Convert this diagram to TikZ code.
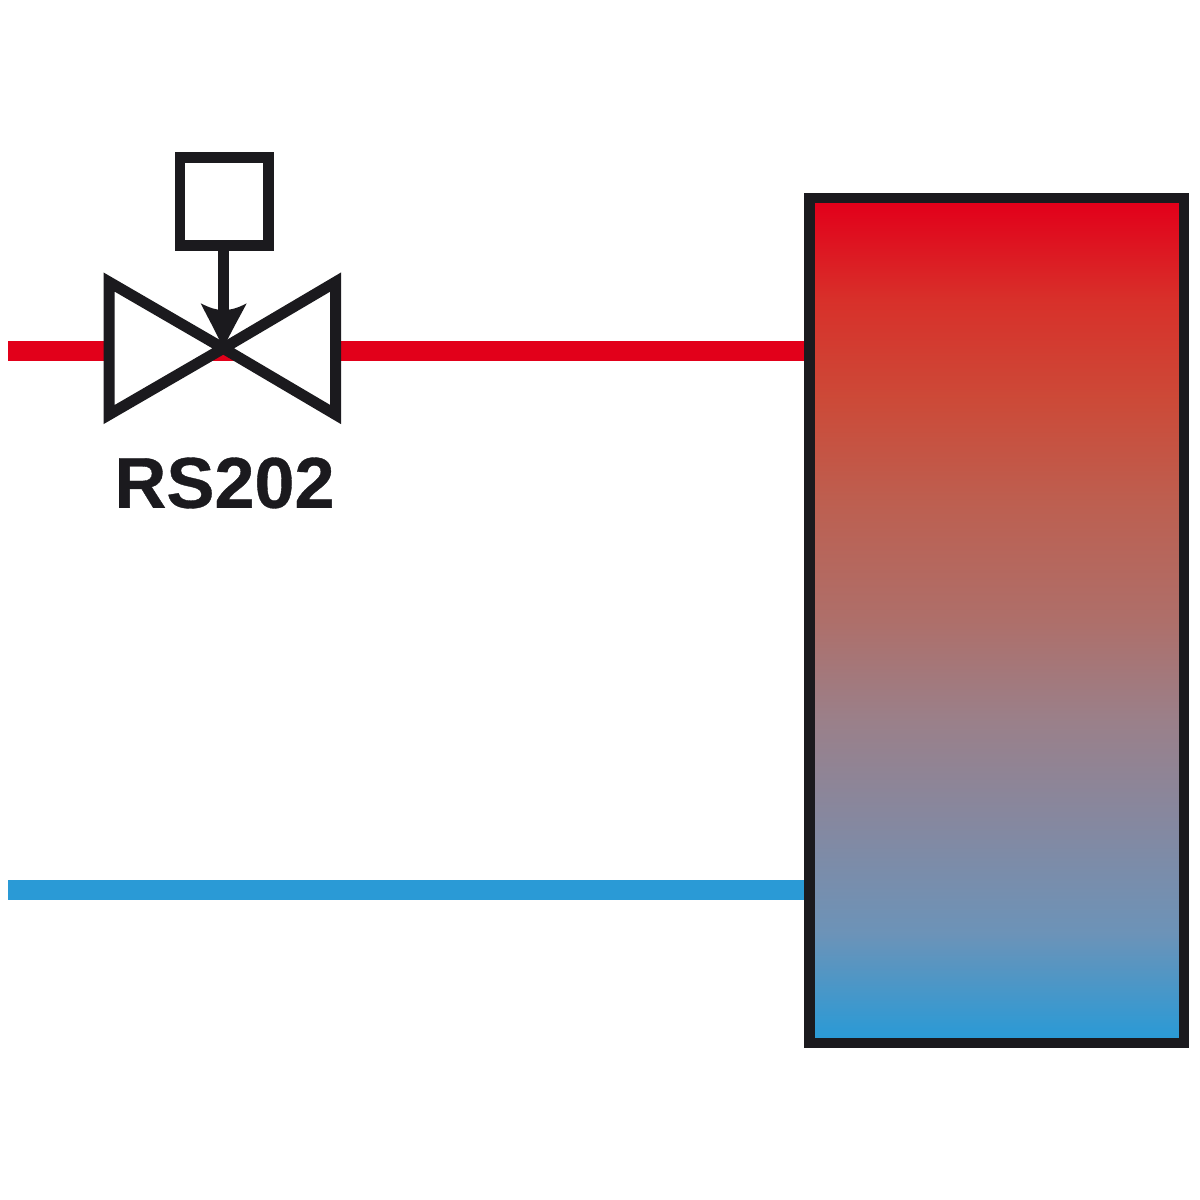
\documentclass[tikz,border=0pt]{standalone}
\usepackage{fontspec}
\setmainfont{Liberation Sans}
\newfontfamily\labelfont[UprightFont=* Bold,UprightFeatures={FakeBold=0.5}]{Liberation Sans}
\definecolor{ink}{HTML}{1B1A1E}
\definecolor{hot}{HTML}{E2001A}
\definecolor{cold}{HTML}{2A9AD6}
\definecolor{tanka}{HTML}{6C93B8}
\definecolor{tankb}{HTML}{8588A0}
\definecolor{tankc}{HTML}{9A808A}
\definecolor{tankd}{HTML}{AE6F6A}
\definecolor{tanke}{HTML}{BD5F50}
\definecolor{tankf}{HTML}{CC4A38}
\definecolor{tankg}{HTML}{D8302A}
\pgfdeclareverticalshading{tankfill}{100bp}{
  color(0bp)=(cold);
  color(25.3bp)=(cold);
  color(31.5bp)=(tanka);
  color(38bp)=(tankb);
  color(44bp)=(tankc);
  color(50bp)=(tankd);
  color(57bp)=(tanke);
  color(63bp)=(tankf);
  color(69bp)=(tankg);
  color(74.7bp)=(hot);
  color(100bp)=(hot)
}
\tikzset{
  pipe/.style={line width=12.2pt,shorten >=3.15pt},
  valve/.style={draw=ink,line width=6.6pt,fill=white,miter limit=10},
  frame/.style={draw=ink,inner sep=0,outer sep=0,anchor=north west},
}
\begin{document}
\begin{tikzpicture}[x=0.6pt,y=-0.6pt]
\useasboundingbox (0,0) rectangle (1200,1200);
\fill[white] (0,0) rectangle (1200,1200);
\coordinate (redstart) at (8,351.3);
\coordinate (bluestart) at (8,890.3);
\coordinate (c) at (223.3,348.3);
\node[frame,line width=6.3pt,minimum width=224.7pt,minimum height=507pt,shading=tankfill] (tank) at (809.5,198) {};
\draw[hot,pipe] (redstart) -- (redstart -| tank.west);
\draw[cold,pipe] (bluestart) -- (bluestart -| tank.west);
\draw[valve] (c) -- (109,282) -- (109,414.6) -- cycle;
\draw[valve] (c) -- (335.7,282) -- (335.7,414.6) -- cycle;
\node[frame,line width=6.3pt,minimum width=53.2pt,minimum height=52.7pt] (box) at (180,157.5) {};
\draw[ink,line width=6.4pt] (box.south -| c) -- (223.3,320);
\fill[ink] (c) .. controls (215,330) and (208,318) .. (200.7,303.3) .. controls (210,308) and (216,310) .. (223.3,310) .. controls (231,310) and (238,308) .. (246.7,303.3) .. controls (239,318) and (232,330) .. (c) -- cycle;
\node[text=ink] (label) at (224.5,483) {\labelfont\fontsize{43.2}{44}\selectfont RS202};
\end{tikzpicture}
\end{document}
